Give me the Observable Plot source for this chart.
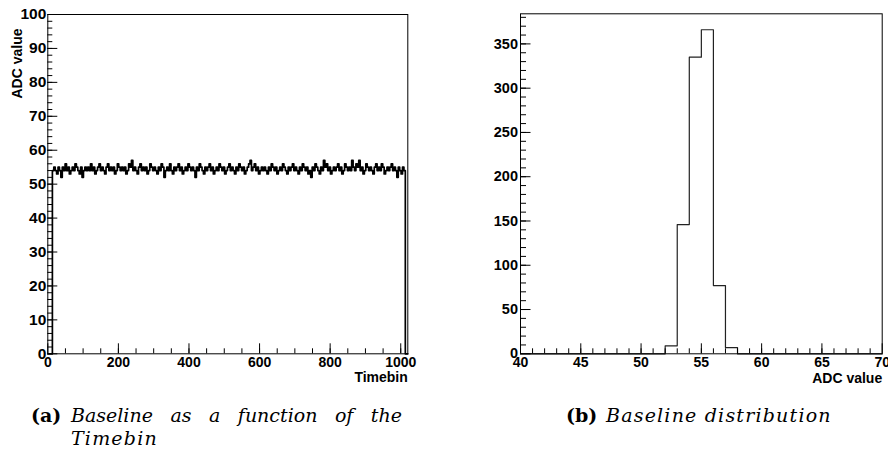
<!DOCTYPE html>
<html>
<head>
<meta charset="utf-8">
<script src="https://cdn.jsdelivr.net/npm/d3@7"></script>
<script src="https://cdn.jsdelivr.net/npm/@observablehq/plot@0.6"></script>
<style>
  html, body { margin: 0; padding: 0; background: #fff; }
  #wrap { position: relative; width: 888px; height: 457px; overflow: hidden; }
  #left, #right { position: absolute; top: 0; }
  #left { left: 0; }
  #right { left: 444px; }
  #wrap svg text { font-family: "Liberation Sans", Arial, sans-serif !important; font-weight: bold !important; fill: #000; }
  .cap { position: absolute; font-family: "DejaVu Serif", serif; font-size: 19px; color: #000; white-space: nowrap; line-height: 1; }
  .tag { font-weight: bold; font-style: normal; }
  .it { font-style: italic; }
  .just { text-align: justify; text-align-last: justify; white-space: normal; }
</style>
</head>
<body>
<div id="wrap">
  <div id="left"></div>
  <div id="right"></div>
  <div class="cap tag" style="left:31px; top:406px;">(a)</div>
  <div class="cap it just" style="left:71px; top:406px; width:331px;">Baseline as a function of the</div>
  <div class="cap it" style="left:71px; top:429px; letter-spacing:1.2px;">Timebin</div>
  <div class="cap tag" style="left:566px; top:406px;">(b)</div>
  <div class="cap it" style="left:606px; top:406px; letter-spacing:1.2px;">Baseline distribution</div>
</div>
<script>
// ---------- data ----------
// (a) baseline ADC value per group of 4 timebins, starting at timebin 13
const firstTimebin = 13;
const timebinsPerValue = 4;
const lastTimebin = 1013;
const baselineADC = [
  54,55,54,53,55,54,52,55,54,56,54,55,53,54,55,54,56,55,54,53,55,52,54,55,54,
  55,54,56,54,55,53,54,55,56,54,55,54,53,55,56,54,55,54,55,53,54,56,55,54,55,
  54,55,53,54,56,55,57,54,55,54,53,55,56,54,55,54,55,53,54,56,55,54,55,54,53,
  55,54,56,55,52,54,55,54,56,54,53,55,54,55,56,54,55,53,54,55,54,56,55,54,55,
  54,52,55,54,56,55,54,53,55,54,55,56,54,55,53,54,55,54,56,55,54,55,53,54,55,
  56,54,55,54,53,55,54,56,55,54,55,53,54,55,56,57,54,55,56,54,55,53,54,55,54,
  55,54,53,55,54,56,55,54,55,53,54,55,54,56,55,54,53,55,54,55,56,54,55,54,53,
  55,54,56,55,54,55,53,54,52,55,54,56,55,54,53,55,54,57,55,56,54,55,53,54,55,
  54,55,56,54,55,53,54,56,55,54,55,54,57,55,54,56,55,57,54,55,53,54,56,55,54,
  55,54,53,55,56,54,55,54,56,55,53,54,55,54,55,56,54,55,54,52,55,54,53,55,54
];
// (b) baseline distribution (entries per ADC bin)
const adcBins   = [52, 53, 54, 55, 56, 57];
const adcCounts = [9, 146, 335, 366, 77, 7];

// tick labels
const leftXTicks  = [0, 200, 400, 600, 800, 1000];
const leftYTicks  = [0, 10, 20, 30, 40, 50, 60, 70, 80, 90, 100];
const rightXTicks = [40, 45, 50, 55, 60, 65, 70];
const rightYTicks = [0, 50, 100, 150, 200, 250, 300, 350];

// ---------- derived tables ----------
const leftPts = [{t: 0, v: 0}]
  .concat(baselineADC.map((v, i) => ({t: firstTimebin + i * timebinsPerValue, v})))
  .concat([{t: lastTimebin, v: 0}, {t: 1020, v: 0}]);

const histPts = [];
for (let b = 40; b < 70; b++) {
  const k = adcBins.indexOf(b);
  histPts.push({x: b, y: k >= 0 ? adcCounts[k] : 0});
}
histPts.push({x: 70, y: 0});

const font = "'Liberation Sans', Arial, Helvetica, sans-serif";
const W = 444, H = 395;
const fmt = d => String(d);

function inwardTicks({fw, fh, xMajor, xMinor, yMajor, yMinor, xLen, yLen}) {
  return [
    Plot.tickX(xMinor, {x: d => d, insetTop: fh - xLen[1], stroke: "black"}),
    Plot.tickX(xMajor, {x: d => d, insetTop: fh - xLen[0], stroke: "black"}),
    Plot.tickY(yMinor, {y: d => d, insetRight: fw - yLen[1], stroke: "black"}),
    Plot.tickY(yMajor, {y: d => d, insetRight: fw - yLen[0], stroke: "black"})
  ];
}

// ---------- left plot ----------
{
  const mL = 47.3, mT = 14, mR = W - 407.3, mB = H - 353.3;
  const fw = W - mL - mR, fh = H - mT - mB;
  const p = Plot.plot({
    width: W, height: H,
    marginLeft: mL, marginTop: mT, marginRight: mR, marginBottom: mB,
    style: {fontFamily: font, fontWeight: "bold", color: "black", background: "transparent", overflow: "visible"},
    x: {domain: [0, 1020]},
    y: {domain: [0, 100]},
    marks: [
      Plot.line(leftPts, {x: "t", y: "v", curve: "step-after", stroke: "black", strokeWidth: 1.7}),
      ...inwardTicks({fw, fh, xMajor: leftXTicks, xMinor: d3.range(50, 1001, 50),
        yMajor: leftYTicks, yMinor: d3.range(2, 100, 2), xLen: [10, 5], yLen: [10, 5]}),
      Plot.frame({stroke: "black"}),
      Plot.axisX(leftXTicks, {tickSize: 0, tickPadding: 3, fontSize: 14, fontWeight: "bold", label: null, tickFormat: fmt}),
      Plot.axisY(leftYTicks, {tickSize: 0, tickPadding: 1.5, fontSize: 15.5, fontWeight: "bold", label: null, tickFormat: fmt}),
      Plot.text(["ADC value"], {frameAnchor: "top-left", rotate: -90, textAnchor: "end", lineAnchor: "middle",
        dx: 16.7 - mL, dy: 28 - mT, fontSize: 14, fontWeight: "bold"}),
      Plot.text(["Timebin"], {frameAnchor: "bottom-right", textAnchor: "end", lineAnchor: "bottom",
        dy: 28.4, fontSize: 14, fontWeight: "bold"})
    ]
  });
  document.getElementById("left").appendChild(p);
}

// ---------- right plot ----------
{
  const mL = 76, mT = 13.3, mR = W - 437.7, mB = H - 353.3;
  const fw = W - mL - mR, fh = H - mT - mB;
  const p = Plot.plot({
    width: W, height: H,
    marginLeft: mL, marginTop: mT, marginRight: mR, marginBottom: mB,
    style: {fontFamily: font, fontWeight: "bold", color: "black", background: "transparent", overflow: "visible"},
    x: {domain: [40, 70]},
    y: {domain: [0, 384]},
    marks: [
      Plot.line(histPts, {x: "x", y: "y", curve: "step-after", stroke: "#222", strokeWidth: 1.2}),
      ...inwardTicks({fw, fh, xMajor: rightXTicks, xMinor: d3.range(41, 70, 1),
        yMajor: rightYTicks, yMinor: d3.range(10, 384, 10), xLen: [10, 5], yLen: [10.5, 6]}),
      Plot.frame({stroke: "black"}),
      Plot.axisX(rightXTicks, {tickSize: 0, tickPadding: 3, fontSize: 14, fontWeight: "bold", label: null, tickFormat: fmt}),
      Plot.axisY(rightYTicks, {tickSize: 0, tickPadding: 2.5, fontSize: 14.5, fontWeight: "bold", label: null, tickFormat: fmt}),
      Plot.text(["ADC value"], {frameAnchor: "bottom-right", textAnchor: "end", lineAnchor: "bottom",
        dy: 29.4, fontSize: 14, fontWeight: "bold"})
    ]
  });
  document.getElementById("right").appendChild(p);
}
</script>
</body>
</html>
